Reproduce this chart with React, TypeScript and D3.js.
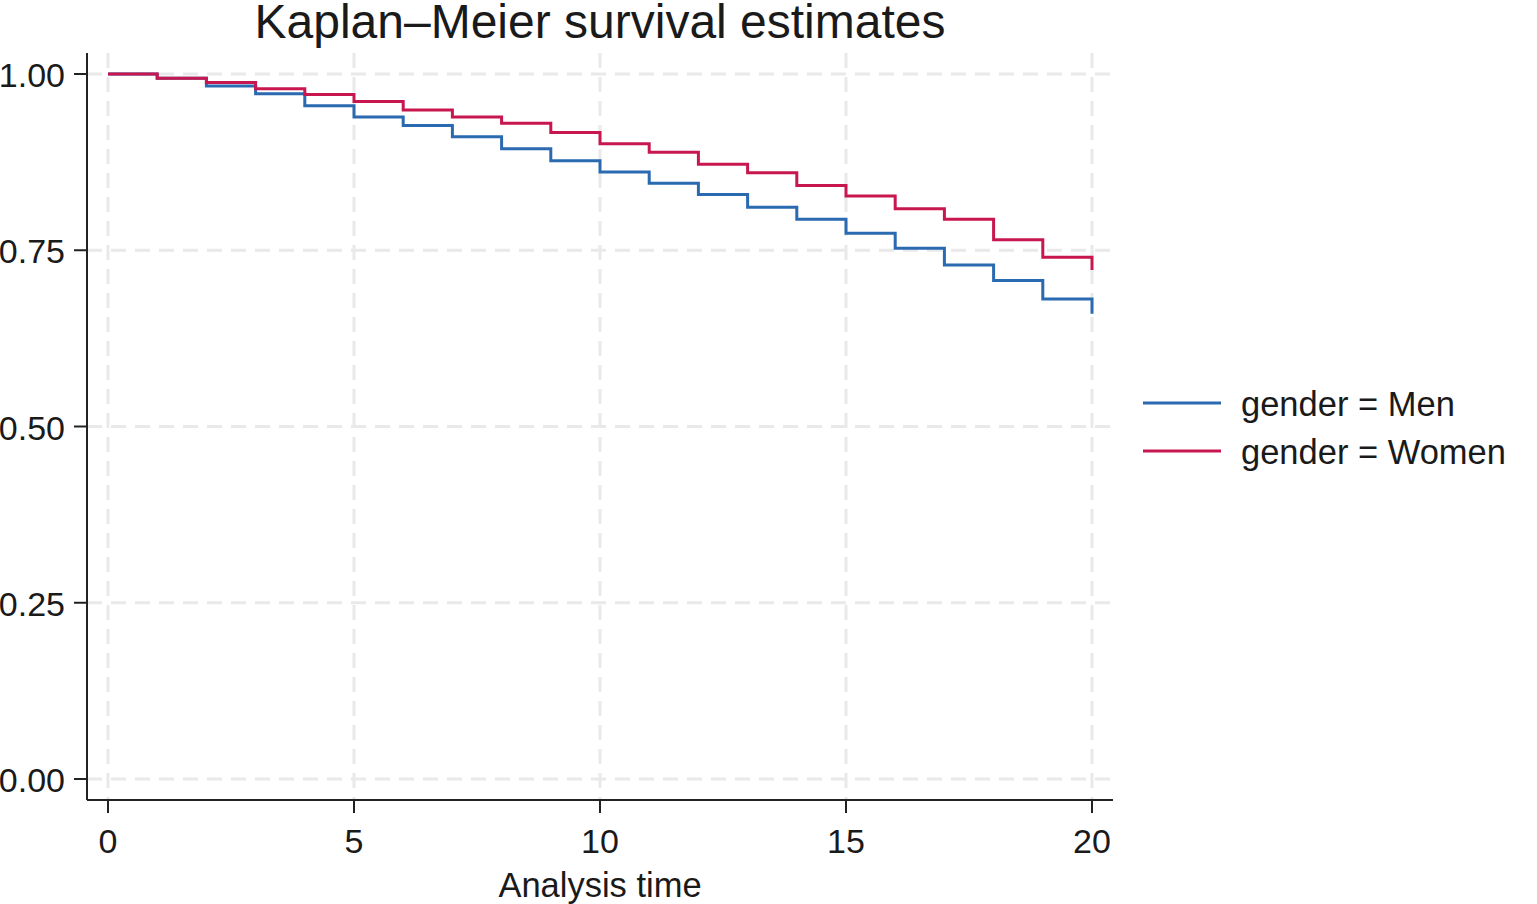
import * as d3 from "d3";

const times = d3.range(0, 21);
const menSurvival = [1.0, 0.994, 0.983, 0.972, 0.955, 0.939, 0.927, 0.911, 0.894, 0.877, 0.861, 0.845, 0.829, 0.811, 0.794, 0.774, 0.753, 0.729, 0.707, 0.681, 0.66];
const womenSurvival = [1.0, 0.994, 0.988, 0.979, 0.971, 0.961, 0.949, 0.939, 0.93, 0.917, 0.901, 0.889, 0.872, 0.86, 0.842, 0.827, 0.809, 0.794, 0.765, 0.74, 0.722];
const xTicks = [0, 5, 10, 15, 20];
const yTicks = [0, 0.25, 0.5, 0.75, 1];
const seriesNames = ["gender = Men", "gender = Women"];
const seriesColors = ["#2a6ab0", "#c8174f"];

const W = 1537;
const H = 904;
const font = "'Liberation Sans', Arial, sans-serif";

export default function App() {
  const x = d3.scaleLinear().domain([0, 20]).range([108, 1092]);
  const y = d3.scaleLinear().domain([0, 1]).range([779, 74]);
  const left = 87;
  const right = 1113;
  const top = 53;
  const bottom = 800;

  const line = d3
    .line<[number, number]>()
    .x(d => x(d[0]))
    .y(d => y(d[1]))
    .curve(d3.curveStepAfter);

  const series = [menSurvival, womenSurvival].map(vals =>
    times.map((t, i) => [t, vals[i]] as [number, number])
  );

  return (
    <div style={{ position: "fixed", left: 0, top: 0 }}>
      <svg width={W} height={H} style={{ display: "block", background: "#fff" }} fontFamily={font}>
        {/* grid */}
        <g stroke="#e9e9e9" strokeWidth={3} strokeDasharray="15,9">
          {yTicks.map(t => (
            <line key={"gy" + t} x1={left} x2={right} y1={y(t)} y2={y(t)} />
          ))}
          {xTicks.map(t => (
            <line key={"gx" + t} x1={x(t)} x2={x(t)} y1={top} y2={bottom} />
          ))}
        </g>

        {/* curves */}
        {series.map((s, i) => (
          <path key={i} d={line(s)!} fill="none" stroke={seriesColors[i]} strokeWidth={3} />
        ))}

        {/* axes */}
        <g stroke="#222" strokeWidth={2}>
          <line x1={left} x2={left} y1={top} y2={bottom} />
          <line x1={left} x2={right} y1={bottom} y2={bottom} />
          {yTicks.map(t => (
            <line key={"ty" + t} x1={left - 13} x2={left} y1={y(t)} y2={y(t)} />
          ))}
          {xTicks.map(t => (
            <line key={"tx" + t} x1={x(t)} x2={x(t)} y1={bottom} y2={bottom + 13} />
          ))}
        </g>
        <g fill="#1a1a1a" fontSize={34}>
          {yTicks.map(t => (
            <text key={"ly" + t} x={65} y={y(t) + 1} textAnchor="end" dominantBaseline="central">
              {d3.format(".2f")(t)}
            </text>
          ))}
          {xTicks.map(t => (
            <text key={"lx" + t} x={x(t)} y={853} textAnchor="middle">
              {t}
            </text>
          ))}
          <text x={(left + right) / 2} y={897} textAnchor="middle" fontSize={34.5}>
            Analysis time
          </text>
        </g>

        {/* title */}
        <text x={(left + right) / 2} y={38} textAnchor="middle" fontSize={48} fill="#1a1a1a">
          Kaplan–Meier survival estimates
        </text>

        {/* legend */}
        {seriesNames.map((name, i) => (
          <g key={name} transform={`translate(1143, ${403 + i * 48})`}>
            <line x1={0} x2={78} y1={0} y2={0} stroke={seriesColors[i]} strokeWidth={3} />
            <text x={98} y={1} dominantBaseline="central" fontSize={34.5} fill="#1a1a1a">
              {name}
            </text>
          </g>
        ))}
      </svg>
    </div>
  );
}
